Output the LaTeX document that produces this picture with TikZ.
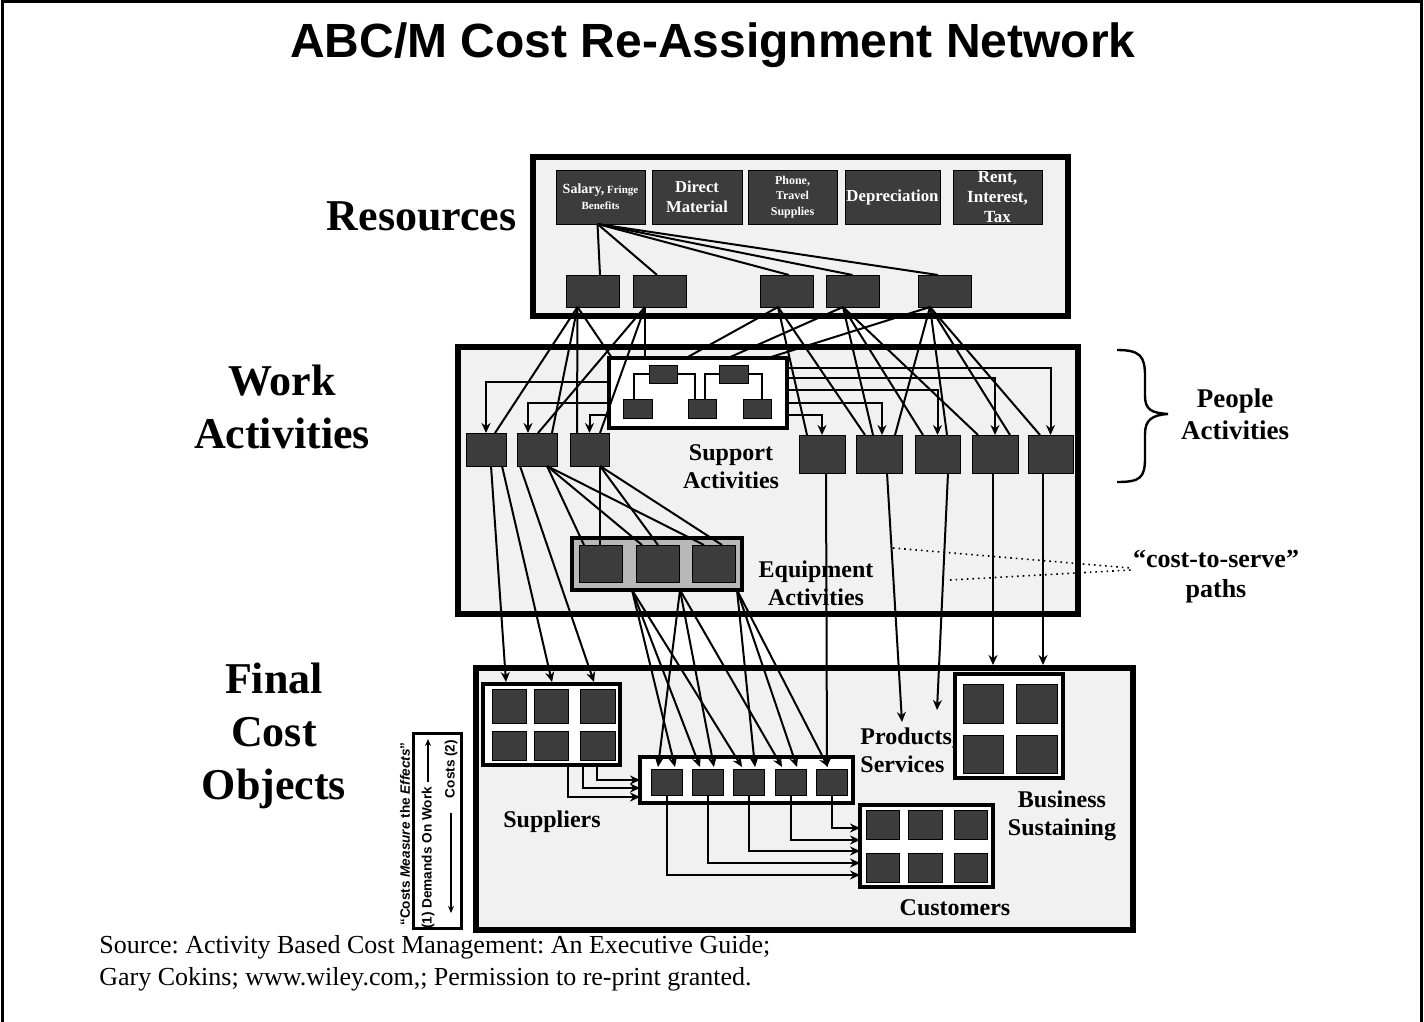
\documentclass[tikz,border=0pt]{standalone}
\usepackage{fontspec}
\setmainfont{Liberation Serif}
\setsansfont{Liberation Sans}
\usetikzlibrary{arrows.meta,calc}
\frenchspacing

\definecolor{panel}{HTML}{F1F1F1}
\definecolor{sqgray}{HTML}{3C3C3C}
\definecolor{eqgray}{HTML}{B8B8B8}

% \mkbox{name}{style}{x1}{y1}{x2}{y2}{text}: rectangle node spanning two corners (pixel units)
\newcommand\mkbox[7]{\node[#2, minimum width={(#5-#3)*0.5pt}, minimum height={(#6-#4)*0.5pt}] (#1) at ({(#3+#5)/2},{(#4+#6)/2}) {#7};}

\begin{document}
\begin{tikzpicture}[x=0.5pt, y=-0.5pt,
  bigbox/.style={draw=black, line width=3pt, fill=panel, rectangle, inner sep=0pt, outer sep=0pt},
  subbox/.style={draw=black, line width=1.75pt, fill=white, rectangle, inner sep=0pt, outer sep=0pt},
  eqbox/.style={subbox, line width=2pt, fill=eqgray},
  legbox/.style={subbox, line width=1.5pt},
  sq/.style={draw=black, line width=0.5pt, fill=sqgray, rectangle, inner sep=0pt, outer sep=0pt},
  resitem/.style={sq, text=white, align=center},
  conn/.style={line width=1pt},
  conna/.style={conn, -{Stealth[length=5pt,width=4.5pt]}},
  dotline/.style={line width=0.8pt, dotted},
  biglab/.style={font=\fontsize{22}{26.5}\selectfont\bfseries, align=center, inner sep=0pt},
  midlab/.style={font=\fontsize{12}{14}\selectfont\bfseries, align=center, inner sep=0pt},
  sidelab/.style={font=\fontsize{13.5}{16}\selectfont\bfseries, align=center, inner sep=0pt},
  legtxt/.style={font=\sffamily\bfseries\fontsize{6.8}{8}\selectfont, inner sep=0pt},
  legarr/.style={line width=0.6pt, -{Stealth[length=3.5pt,width=3pt]}}
]
\useasboundingbox (0,0) rectangle (1424,1022);
\fill[white] (0,0) rectangle (1424,1022);
% page frame (open at the bottom)
\draw[line width=1.5pt] (2,1022) -- (2,2) -- (1421,2) -- (1421,1022);

\node[font=\sffamily\bfseries\fontsize{24}{28}\selectfont, inner sep=0pt] (title) at (713,45) {ABC/M Cost Re-Assignment Network};

% ---------------- side headings
\node[biglab, anchor=east] (lres) at (517,216) {Resources};
\node[biglab] (lwork) at (282,407) {Work\\Activities};
\node[biglab] (lfin) at (274,736) {Final\\Cost\\Objects};

% ---------------- Resources
\mkbox{res}{bigbox}{533}{157}{1068}{316}{}
\mkbox{rs1}{resitem, font=\bfseries\fontsize{5.5}{8}\selectfont}{556}{170}{645}{224}{{\fontsize{7}{8}\selectfont Salary,} Fringe\\Benefits}
\mkbox{rs2}{resitem, font=\bfseries\fontsize{8.3}{10}\selectfont}{652}{170}{742}{224}{Direct\\Material}
\mkbox{rs3}{resitem, font=\bfseries\fontsize{6}{7.7}\selectfont}{748}{170}{837}{224}{Phone,\\Travel\\Supplies}
\mkbox{rs4}{resitem, font=\bfseries\fontsize{8.4}{10}\selectfont}{845}{170}{940}{224}{Depreciation}
\mkbox{rs5}{resitem, font=\bfseries\fontsize{8.5}{10}\selectfont}{953}{170}{1042}{224}{Rent,\\Interest,\\Tax}
\mkbox{R1}{sq}{566}{275}{619}{307}{}
\mkbox{R2}{sq}{633}{275}{686}{307}{}
\mkbox{R3}{sq}{760}{275}{813}{307}{}
\mkbox{R4}{sq}{826}{275}{879}{307}{}
\mkbox{R5}{sq}{918}{275}{971}{307}{}

% ---------------- Work activities
\mkbox{work}{bigbox}{458}{347}{1078}{614}{}
\mkbox{sup}{subbox}{609}{358}{787}{428}{}
\mkbox{T1}{sq}{649}{365}{677}{383}{}
\mkbox{T2}{sq}{719}{365}{748}{383}{}
\mkbox{L1}{sq}{623}{399}{652}{418}{}
\mkbox{L2}{sq}{688}{399}{716}{418}{}
\mkbox{L3}{sq}{743}{399}{771}{418}{}
\mkbox{A1}{sq}{466}{433}{506}{466}{}
\mkbox{A2}{sq}{517}{433}{557}{466}{}
\mkbox{A3}{sq}{570}{433}{609}{466}{}
\mkbox{B1}{sq}{799}{435}{845}{473}{}
\mkbox{B2}{sq}{856}{435}{902}{473}{}
\mkbox{B3}{sq}{915}{435}{960}{473}{}
\mkbox{B4}{sq}{972}{435}{1018}{473}{}
\mkbox{B5}{sq}{1028}{435}{1073}{473}{}
\mkbox{eq}{eqbox}{572}{538}{742}{590}{}
\mkbox{E1}{sq}{579}{545}{622}{582}{}
\mkbox{E2}{sq}{636}{545}{679}{582}{}
\mkbox{E3}{sq}{692}{545}{735}{582}{}
\node[midlab] (lsup) at (731,467) {Support\\Activities};
\node[midlab] (leq) at (816,583) {Equipment\\Activities};

% ---------------- Final cost objects
\mkbox{fin}{bigbox}{476}{668}{1133}{930}{}
\mkbox{supp}{subbox}{483}{684}{620}{765}{}
\mkbox{s1}{sq}{492}{689}{526}{723}{}
\mkbox{s2}{sq}{534}{689}{568}{723}{}
\mkbox{s3}{sq}{580}{689}{615}{723}{}
\mkbox{s4}{sq}{492}{731}{526}{760}{}
\mkbox{s5}{sq}{534}{731}{568}{760}{}
\mkbox{s6}{sq}{580}{731}{615}{760}{}
\mkbox{prod}{subbox}{640}{757}{853}{803}{}
\mkbox{P1}{sq}{651}{769}{682}{795}{}
\mkbox{P2}{sq}{692}{769}{723}{795}{}
\mkbox{P3}{sq}{733}{769}{764}{795}{}
\mkbox{P4}{sq}{775}{769}{806}{795}{}
\mkbox{P5}{sq}{816}{769}{847}{795}{}
\mkbox{bus}{subbox}{955}{674}{1063}{778}{}
\mkbox{b1}{sq}{963}{684}{1003}{723}{}
\mkbox{b2}{sq}{1016}{684}{1057}{723}{}
\mkbox{b3}{sq}{963}{735}{1003}{773}{}
\mkbox{b4}{sq}{1016}{735}{1057}{773}{}
\mkbox{cust}{subbox}{860}{805}{993}{887}{}
\mkbox{c1}{sq}{866}{810}{899}{839}{}
\mkbox{c2}{sq}{908}{810}{942}{839}{}
\mkbox{c3}{sq}{954}{810}{987}{839}{}
\mkbox{c4}{sq}{866}{853}{899}{882}{}
\mkbox{c5}{sq}{908}{853}{942}{882}{}
\mkbox{c6}{sq}{954}{853}{987}{882}{}
\node[midlab, anchor=west, align=left] (lprod) at (860,750) {Products,\\Services};
\node[midlab] (lbus) at (1062,816) {Business\\Sustaining};
\node[midlab] (lsupp) at (552,822) {Suppliers};
\node[midlab] (lcust) at (955,908) {Customers};

% ---------------- right-hand notes
\node[sidelab] (people) at (1235,414) {People\\Activities};
\draw[line width=1.2pt] (1117,350) .. controls (1140,350) and (1145,356) .. (1145,376)
  -- (1145,396) .. controls (1145,410) and (1152,413) .. (1168,414)
  .. controls (1152,415) and (1145,420) .. (1145,434)
  -- (1145,458) .. controls (1145,478) and (1140,482) .. (1117,482);
\node[font=\fontsize{13}{15}\selectfont\bfseries, align=center, inner sep=0pt] (cts) at (1216,577) {“cost-to-serve”\\paths};
\coordinate (ctsa) at (893,548);
\coordinate (ctsb) at (950,580);
\draw[dotline] (ctsa) -- ($(cts.west)+(-2,-9)$);
\draw[dotline] (ctsb) -- ($(cts.west)+(-2,-7)$);

% ---------------- resource assignments
\foreach \t/\dx in {R1/7.5, R2/-2.5, R3/2.5, R4/0, R5/-6.5}
  \draw[conn] ($(rs1.south)+(-3,0)$) -- ($(\t.north)+(\dx,0)$);
\foreach \t/\dx in {A1.north/9, A2.north/15, A3.north/-12.5, sup.north west/3}
  \draw[conn] ($(R1.south)+(-15,0)$) -- ($(\t)+(\dx,0)$);
\foreach \t/\dx in {A2.north/1, A3.north/10.5, sup.north west/36}
  \draw[conn] ($(R2.south)+(-14.5,0)$) -- ($(\t)+(\dx,0)$);
\foreach \t/\dx in {B1.north/-15, B2.north/-14, sup.north west/77}
  \draw[conn] ($(R3.south)+(-8.5,0)$) -- ($(\t)+(\dx,0)$);
\foreach \t/\dx in {B2.north/-6, B3.north/-14.5, B4.north/-17, sup.north west/119}
  \draw[conn] ($(R4.south)+(-9.5,0)$) -- ($(\t)+(\dx,0)$);
\foreach \t/\dx in {B2.north/16, B3.north/9.5, B4.north/15, B5.north/-10.5, sup.north west/159}
  \draw[conn] ($(R5.south)+(-14.5,0)$) -- ($(\t)+(\dx,0)$);

% ---------------- support activity tree
\draw[conn] (T1.west) -| ($(L1.north)+(-4,0)$);
\draw[conn] (T1.east) -| ($(L2.north)+(-7,0)$);
\draw[conn] (T2.west) -| ($(L2.north)+(3,0)$);
\draw[conn] (T2.east) -| ($(L3.north)+(5,0)$);

% ---------------- support to people activities
\draw[conna] ($(sup.west)+(0,-11)$) -| (A1.north);
\draw[conna] ($(sup.west)+(0,10)$) -| ($(A2.north)+(-9,0)$);
\draw[conna] ($(sup.west)+(0,22)$) -| (A3.north);
\draw[conna] ($(sup.east)+(0,-25)$) -| (B5.north);
\draw[conna] ($(sup.east)+(0,-15)$) -| (B4.north);
\draw[conna] ($(sup.east)+(0,-3)$) -| (B3.north);
\draw[conna] ($(sup.east)+(0,10)$) -| ($(B2.north)+(3,0)$);
\draw[conna] ($(sup.east)+(0,22)$) -| (B1.north);

% ---------------- people activities to equipment
\foreach \t/\dx in {E1/-16.5, E2/-15.5, E3/-9.5}
  \draw[conn] ($(A2.south)+(10,0)$) -- ($(\t.north)+(\dx,0)$);
\foreach \t/\dx in {E1/-0.5, E2/0.5, E3/8.5}
  \draw[conn] ($(A3.south)+(10.5,0)$) -- ($(\t.north)+(\dx,0)$);

% ---------------- people activities to suppliers
\draw[conna] ($(A1.south)+(5,0)$) -- ($(supp.north)+(-45.5,-2)$);
\draw[conna] ($(A1.south)+(16,0)$) -- ($(supp.north)+(0.5,-2)$);
\draw[conna] ($(A2.south)+(-17,0)$) -- ($(supp.north)+(42.5,-2)$);

% ---------------- equipment to products
\foreach \t/\dx in {P1/8.5, P2/-7.5, P3/-6.5}
  \draw[conna] ($(eq.south)+(-25,0)$) -- ($(\t.north)+(\dx,-2)$);
\foreach \t/\dx in {P1/-8.5, P2/6.5, P4/-8.5}
  \draw[conna] ($(eq.south)+(23,0)$) -- ($(\t.north)+(\dx,-2)$);
\foreach \t/\dx in {P3/6.5, P4/6.5, P5/-3.5}
  \draw[conna] ($(eq.south)+(80,0)$) -- ($(\t.north)+(\dx,-2)$);

% ---------------- people activities to final objects
\coordinate (pa) at (902,722);
\coordinate (pb) at (937,710);
\draw[conna] ($(B1.south)+(4,0)$) -- ($(P5.north)+(-4.5,-2)$);
\draw[conna] ($(B2.south)+(8,0)$) -- (pa);
\draw[conna] ($(B3.south)+(10.5,0)$) -- (pb);
\draw[conna] ($(B4.south)+(-2,0)$) -- ($(bus.north)+(-16,-9)$);
\draw[conna] ($(B5.south)+(-7.5,0)$) -- ($(bus.north)+(34,-9)$);

% ---------------- suppliers to products, products to customers
\draw[conna] ($(supp.south)+(16.5,0)$) |- ($(prod.west)+(0,17)$);
\draw[conna] ($(supp.south)+(31.5,0)$) |- ($(prod.west)+(0,8)$);
\draw[conna] ($(supp.south)+(45.5,0)$) |- (prod.west);
\draw[conna] (P1.south) |- ($(cust.west)+(0,29)$);
\draw[conna] (P2.south) |- ($(cust.west)+(0,17)$);
\draw[conna] (P3.south) |- ($(cust.west)+(0,5)$);
\draw[conna] (P4.south) |- ($(cust.west)+(0,-6)$);
\draw[conna] (P5.south) |- ($(cust.west)+(0,-18)$);

% ---------------- direction legend
\mkbox{leg}{legbox}{413}{733}{461}{928}{}
\node[legtxt, rotate=90] (cme) at (405,834) {“Costs \textit{Measure} the \textit{Effects}”};
\node[legtxt, rotate=90] (dem) at (428,858) {(1) Demands On Work};
\node[legtxt, rotate=90] (cst) at (451,769) {Costs (2)};
\draw[legarr] ($(dem.east)+(0,-5)$) -- ($(leg.north)+(-9,6)$);
\draw[legarr] ($(cst.west)+(0,14)$) -- ($(leg.south)+(14,-15)$);

% ---------------- source note
\node[font=\fontsize{13}{16}\selectfont, align=left, anchor=north west, inner sep=0pt] (src) at (99,935)
  {Source: Activity Based Cost Management: An Executive Guide;\\Gary Cokins; www.wiley.com,; Permission to re-print granted.};
\end{tikzpicture}
\end{document}
